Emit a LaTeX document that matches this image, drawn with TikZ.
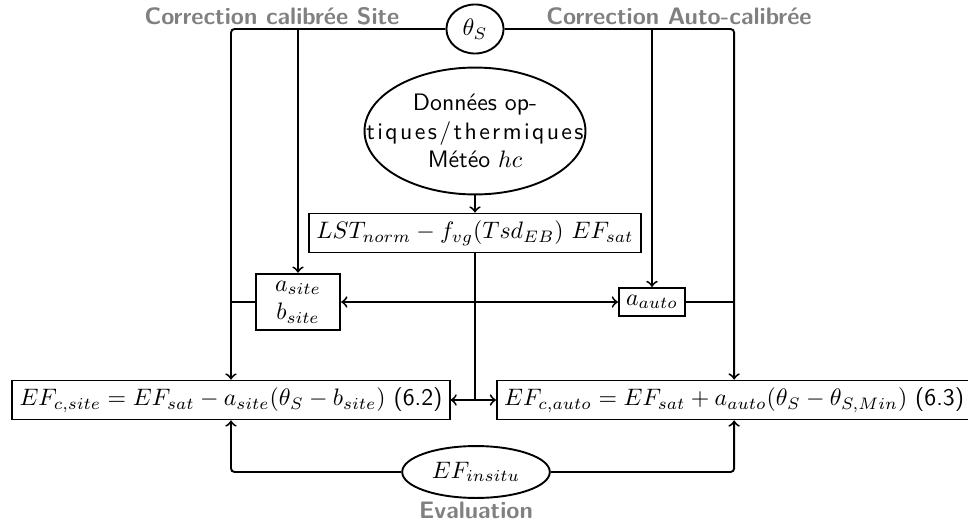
\documentclass[tikz,border=0pt]{standalone}
\usepackage{fontspec}
\usepackage{xcolor}
\usepackage{tikz}
\usetikzlibrary{shapes.geometric}
\renewcommand{\familydefault}{\sfdefault}
\newfontfamily\espace[LetterSpace=10]{lmsans10-regular.otf}

\begin{document}
\begin{tikzpicture}[x=0.42pt, y=-0.42pt, thick, rounded corners=1.5pt]
        \useasboundingbox (0,0) rectangle (968,522);
        \tikzset{boite/.style={draw, sharp corners, inner sep=3pt},
                 titre/.style={text=gray, font=\bfseries}}
        \node[draw, ellipse, inner sep=0pt, minimum width=24pt, minimum height=20.6pt] (theta) at (475,29) {$\theta_S$};
        \node[draw, ellipse, inner sep=0pt, minimum width=92.8pt, minimum height=53.3pt] (data) at (475,131) {};
        \node[align=center] (datatxt) at (data) {Données op-\\{\espace tiques/thermiques}\\Météo $hc$};
        \node[boite] (lst) at (475,233) {$LST_{norm} - f_{vg}(Tsd_{EB})~EF_{sat}$};
        \node[boite, align=center, minimum width=35.5pt] (asite) at (298,302) {$a_{site}$\\$b_{site}$};
        \node[boite] (aauto) at (652,302) {$a_{auto}$};
        \node[boite] (efsite) at (231,400) {$EF_{c,site} = EF_{sat} - a_{site}(\theta_S - b_{site})$ (6.2)};
        \node[boite, anchor=west] (efauto) at (496,400) {$EF_{c,auto} = EF_{sat} + a_{auto}(\theta_S - \theta_{S,Min})$ (6.3)};
        \node[draw, ellipse, inner sep=0pt, minimum width=62pt, minimum height=21.8pt] (insitu) at (476,472) {$EF_{insitu}$};

        \node[titre] (tsite) at (272,16) {Correction calibrée Site};
        \node[titre] (tauto) at (679,16) {Correction Auto-calibrée};
        \node[titre] (teval) at (476,510) {Evaluation};

        \draw[->] (theta.west) -| (efsite.north);
        \draw[->] (theta.east) -| (efauto.north);
        \draw[->] (asite.north |- theta) -- (asite);
        \draw[->] (aauto.north |- theta) -- (aauto);
        \draw (asite.west) -- (asite.west -| efsite.north);
        \draw (aauto.east) -- (aauto.east -| efauto.north);
        \draw[->] (data) -- (lst);
        \draw (lst.south) -- (lst.south |- efsite.east);
        \draw[<->] (asite.east) -- (aauto.west);
        \draw[<->] (efsite.east) -- (efauto.west);
        \draw[->] (insitu.west) -| (efsite.south);
        \draw[->] (insitu.east) -| (efauto.south);
    \end{tikzpicture}
\end{document}
